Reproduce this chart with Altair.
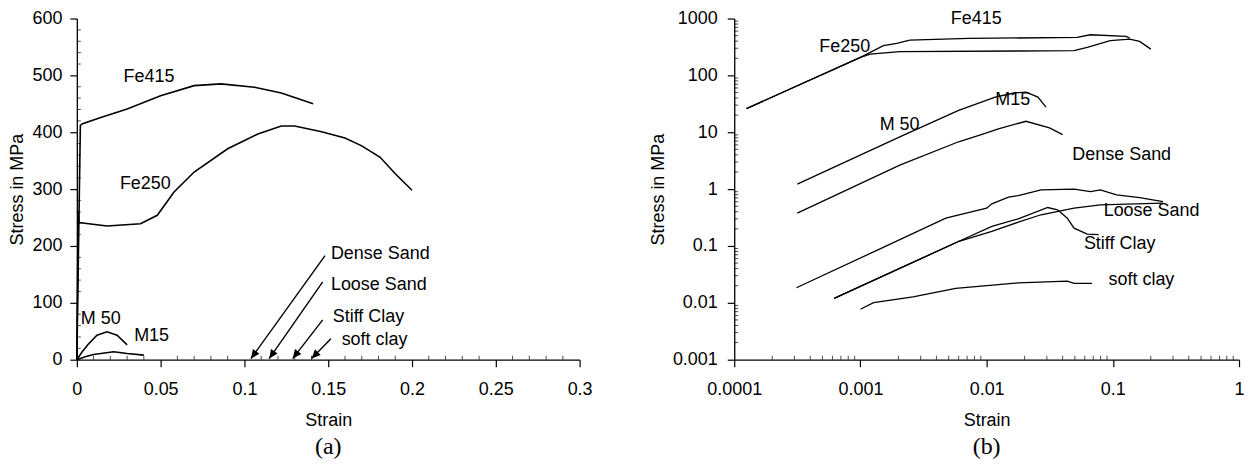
import math
import altair as alt
import pandas as pd

# ---------------- Panel (a): linear axes ----------------
fe415_a_x = [0, 0.0021, 0.0034, 0.0143, 0.030, 0.050, 0.070, 0.086, 0.106, 0.122, 0.141]
fe415_a_y = [0, 412, 415, 426, 441, 464, 482, 485, 479, 469, 450]
fe250_a_x = [0, 0.0008, 0.0013, 0.018, 0.038, 0.048, 0.058, 0.070, 0.090, 0.108, 0.122, 0.130, 0.146, 0.160, 0.170, 0.181, 0.190, 0.200]
fe250_a_y = [0, 262, 241, 235, 239, 254, 295, 330, 371, 397, 411, 411, 401, 390, 376, 356, 327, 298]
m50_a_x = [0, 0.003, 0.0064, 0.012, 0.018, 0.024, 0.030]
m50_a_y = [0, 13, 26, 43, 49, 43, 26]
m15_a_x = [0, 0.005, 0.010, 0.022, 0.030, 0.040]
m15_a_y = [0, 5, 9, 14, 11, 8]

labels_a = ["Fe415", "Fe250", "M 50", "M15", "Dense Sand", "Loose Sand", "Stiff Clay", "soft clay"]
labels_a_x = [0.0279, 0.0257, 0.0024, 0.0342, 0.1516, 0.1516, 0.1527, 0.158]
labels_a_y = [498, 309, 71, 42, 186, 132, 75, 35]

arrow_x_from = [0.1481, 0.1467, 0.1467, 0.1516]
arrow_y_from = [183, 137, 70, 37]
arrow_x_to = [0.1039, 0.1148, 0.1288, 0.1401]
arrow_y_to = [2, 2, 2, 2]

xa_major = [0, 0.05, 0.1, 0.15, 0.2, 0.25, 0.3]
ya_major = [0, 100, 200, 300, 400, 500, 600]

# ---------------- Panel (b): log-log axes ----------------
fe250_b_x = [1.25e-4, 1.0e-3, 1.2e-3, 2.05e-3, 0.0493, 0.0627, 0.0953, 0.136, 0.163, 0.200]
fe250_b_y = [26, 208, 237, 261, 272, 311, 407, 434, 396, 290]
fe415_b_x = [1.25e-4, 1.0e-3, 1.52e-3, 1.94e-3, 2.46e-3, 7.2e-3, 0.0522, 0.0665, 0.128, 0.136]
fe415_b_y = [26, 208, 333, 365, 418, 447, 465, 518, 484, 452]
m50_b_x = [3.16e-4, 2.05e-3, 6.0e-3, 0.0117, 0.0165, 0.0205, 0.0255, 0.0295]
m50_b_y = [1.22, 8.3, 24.3, 41.5, 49, 50.7, 41.5, 27.7]
m15_b_x = [3.16e-4, 2.05e-3, 6.0e-3, 9.2e-3, 0.0124, 0.0205, 0.0315, 0.040]
m15_b_y = [0.378, 2.65, 6.8, 9.2, 11.5, 15.6, 11.9, 9.1]
dense_b_x = [3.11e-4, 1.43e-3, 4.75e-3, 6.04e-3, 0.010, 0.011, 0.0149, 0.0178, 0.027, 0.0493, 0.0665, 0.0796, 0.107, 0.163, 0.25]
dense_b_y = [0.0184, 0.089, 0.308, 0.354, 0.462, 0.551, 0.72, 0.77, 0.97, 1.0, 0.90, 0.97, 0.79, 0.71, 0.605]
stiff_b_x = [6.19e-4, 6.04e-3, 0.011, 0.0178, 0.0305, 0.0365, 0.0436, 0.0493, 0.0627, 0.0773]
stiff_b_y = [0.012, 0.121, 0.221, 0.300, 0.475, 0.433, 0.308, 0.206, 0.162, 0.158]
loose_b_x = [6.19e-4, 6.04e-3, 0.011, 0.0178, 0.027, 0.0493, 0.0796, 0.25]
loose_b_y = [0.012, 0.121, 0.18, 0.262, 0.354, 0.462, 0.53, 0.565]
soft_b_x = [1.0e-3, 1.27e-3, 2.61e-3, 5.69e-3, 0.0178, 0.0436, 0.0493, 0.0684]
soft_b_y = [0.0077, 0.0101, 0.0127, 0.018, 0.0225, 0.0241, 0.022, 0.022]

labels_b = ["Fe415", "Fe250", "M 50", "M15", "Dense Sand", "Loose Sand", "Stiff Clay", "soft clay"]
labels_b_x = [5.2e-3, 4.72e-4, 1.42e-3, 0.0117, 0.0478, 0.0846, 0.059, 0.0925]
labels_b_y = [1000, 311, 13.3, 36.3, 3.96, 0.405, 0.108, 0.0248]

xb_major = [1e-4, 1e-3, 1e-2, 1e-1, 1]
yb_major = [1e-3, 1e-2, 1e-1, 1, 10, 100, 1000]

# ---------------- build tables ----------------
def table(series):
    rows = []
    for name, xs, ys in series:
        for i, (x, y) in enumerate(zip(xs, ys)):
            rows.append({"series": name, "order": i, "x": x, "y": y})
    return pd.DataFrame(rows)

df_a = table([("Fe415", fe415_a_x, fe415_a_y), ("Fe250", fe250_a_x, fe250_a_y),
              ("M50", m50_a_x, m50_a_y), ("M15", m15_a_x, m15_a_y)])
df_b = table([("Fe250", fe250_b_x, fe250_b_y), ("Fe415", fe415_b_x, fe415_b_y),
              ("M50", m50_b_x, m50_b_y), ("M15", m15_b_x, m15_b_y),
              ("Dense", dense_b_x, dense_b_y), ("Stiff", stiff_b_x, stiff_b_y),
              ("Loose", loose_b_x, loose_b_y), ("Soft", soft_b_x, soft_b_y)])
lab_a = pd.DataFrame({"label": labels_a, "x": labels_a_x, "y": labels_a_y})
lab_b = pd.DataFrame({"label": labels_b, "x": labels_b_x, "y": labels_b_y})

W_A, W_B, H = 504, 506, 342
XA_DOM, YA_DOM = [0, 0.3], [0, 600]

px_per_x = W_A / (XA_DOM[1] - XA_DOM[0])
px_per_y = H / (YA_DOM[1] - YA_DOM[0])
angles = []
for x0, y0, x1, y1 in zip(arrow_x_from, arrow_y_from, arrow_x_to, arrow_y_to):
    dx = (x1 - x0) * px_per_x
    dy = -(y1 - y0) * px_per_y
    angles.append((math.degrees(math.atan2(dx, -dy))) % 360)
arr = pd.DataFrame({"x": arrow_x_from, "y": arrow_y_from, "x2": arrow_x_to,
                    "y2": arrow_y_to, "angle": angles})

xa_minor = [round(i * 0.01, 2) for i in range(31) if i % 5 != 0]
ya_minor = [i * 20 for i in range(31) if i % 5 != 0]
xb_minor = [m * d for d in [1e-4, 1e-3, 1e-2, 1e-1] for m in range(2, 10)]
yb_minor = [m * d for d in [1e-3, 1e-2, 1e-1, 1, 10, 100] for m in range(2, 10)]

FONT = "Liberation Sans"
FS = 18
MINOR = 4

def major_axis(orient, values, title, label_pad, title_pad, fmt=None, expr=None):
    kw = dict(orient=orient, values=values, title=title, tickSize=7, tickWidth=1.2,
              domainWidth=1.3, labelPadding=label_pad, titlePadding=title_pad,
              grid=False, labelFlush=False, labelOverlap=False)
    if fmt:
        kw["format"] = fmt
    if expr:
        kw["labelExpr"] = expr
    return alt.Axis(**kw)

def panel(df, labs, xscale, yscale, xaxis, yaxis, xmin, ymin, width, sw, title, extra=None):
    def X(field):
        return alt.X(field, scale=xscale, axis=xaxis)

    def Y(field):
        return alt.Y(field, scale=yscale, axis=yaxis)

    lines = alt.Chart(df).mark_line(color="black", strokeWidth=sw).encode(
        x=X("x:Q"), y=Y("y:Q"), detail="series:N", order="order:Q")
    xm = alt.Chart(pd.DataFrame({"v": xmin})).mark_tick(
        color="black", size=MINOR, thickness=1, orient="vertical").encode(
        x=X("v:Q"), y=alt.value(H - MINOR / 2))
    ym = alt.Chart(pd.DataFrame({"v": ymin})).mark_tick(
        color="black", size=MINOR, thickness=1, orient="horizontal").encode(
        y=Y("v:Q"), x=alt.value(MINOR / 2))
    text = alt.Chart(labs).mark_text(align="left", baseline="middle", font=FONT,
                                     fontSize=FS, color="black").encode(
        x=X("x:Q"), y=Y("y:Q"), text="label:N")
    layers = [lines, xm, ym, text]
    for mk in (extra or []):
        layers.append(mk(X, Y))
    return alt.layer(*layers).properties(
        width=width, height=H,
        title=alt.TitleParams(text=title, orient="bottom", font="Liberation Serif",
                              fontSize=24, fontWeight="normal", anchor="middle",
                              color="black", offset=6))

xa_scale = alt.Scale(domain=XA_DOM, nice=False, zero=False)
ya_scale = alt.Scale(domain=YA_DOM, nice=False, zero=False)
xb_scale = alt.Scale(type="log", domain=[1e-4, 1], nice=False)
yb_scale = alt.Scale(type="log", domain=[1e-3, 1000], nice=False)


def rules(X, Y):
    return alt.Chart(arr).mark_rule(color="black", strokeWidth=1.4).encode(
        x=X("x:Q"), y=Y("y:Q"), x2="x2:Q", y2="y2:Q")


def heads(X, Y):
    return alt.Chart(arr).mark_point(shape="M -0.45 1 L 0 0 L 0.45 1 Z", filled=True,
                                     color="black", size=320, opacity=1).encode(
        x=X("x2:Q"), y=Y("y2:Q"), angle=alt.Angle("angle:Q", scale=None))


left = panel(df_a, lab_a, xa_scale, ya_scale,
             major_axis("bottom", xa_major, "Strain", 14, 13, fmt=".2~f"),
             major_axis("left", ya_major, "Stress in MPa", 8, 5, fmt="d"),
             xa_minor, ya_minor, W_A, 1.6, "(a)", [rules, heads])
right = panel(df_b, lab_b, xb_scale, yb_scale,
              major_axis("bottom", xb_major, "Strain", 14, 13, expr="datum.value + ''"),
              major_axis("left", yb_major, "Stress in MPa", 10, 5, expr="datum.value + ''"),
              xb_minor, yb_minor, W_B, 1.3, "(b)")

chart = alt.hconcat(left, right, spacing=55).properties(padding=0).configure_view(
    stroke="transparent").configure_axis(
    labelFont=FONT, titleFont=FONT, labelFontSize=FS, titleFontSize=FS,
    titleFontWeight="normal", labelColor="black", titleColor="black",
    domainColor="black", tickColor="black")

chart.save("out.html", embed_options={"renderer": "svg", "actions": False})
